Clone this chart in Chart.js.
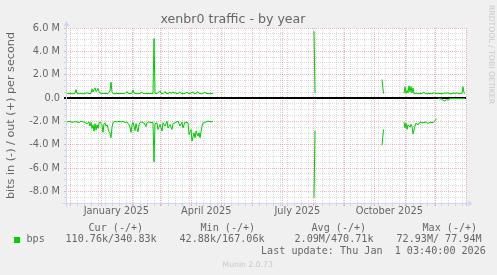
<!DOCTYPE html>
<html>
<head>
<meta charset="utf-8">
<script src="https://cdn.jsdelivr.net/npm/chart.js@4.4.1/dist/chart.umd.min.js"></script>
<style>
  html, body { margin: 0; padding: 0; background: #F0F0F0; }
  #wrap { position: relative; width: 497px; height: 275px; overflow: hidden; background: #F0F0F0; }
  #c { position: absolute; left: 0; top: 0; }
  .lg { position: absolute; white-space: pre; color: #666666; font-family: 'DejaVu Sans Mono', monospace; font-size: 10.1px; line-height: 12px; }
  .wm { position: absolute; white-space: pre; color: #C8C8C8; font-family: 'DejaVu Sans', sans-serif; font-size: 7.7px; line-height: 9px; }
  #swatch { position: absolute; left: 14px; top: 237px; width: 6px; height: 6px; background: #00CC00; }
  #rrd { writing-mode: vertical-rl; }
</style>
</head>
<body>
<div id="wrap">
  <canvas id="c" width="497" height="275"></canvas>
  <div id="swatch"></div>
</div>
<script>
// ---------- data (values in millions of bits per second, x = days since the start of the 400-day window) ----------
const chartTitle = 'xenbr0 traffic - by year';
const yAxisTitle = 'bits in (-) / out (+) per second';
const seriesName = 'bps';

const outDays = [1,3,5,7,9,10,11,13,15,17,19,21,23,25,26,27,28,29,30,31,32,33,34,36,38,40,42,44,45,46,
  47,49,51,53,55,57,59,61,62,64,66,67,68,70,72,74,76,77,79,81,83,85,87,88,89,91,93,94,95,97,
  99,100,102,104,105,107,108,109,110,112,114,115,117,119,121,122,124,127,128,130,132,133,135,137,139,140,142,144,147,148,
  248,249,250,
  316,317.5,320,
  338,339,340,341,342,343,344,345,346,347,348,350,352,354,356,358,359,361,363,366,368,369,371,374,377,379,380,382,383,386,388,389,391,392,394,396,397,398,399];
const outMbps = [0.39,0.37,0.38,0.36,0.40,0.72,0.40,0.37,0.38,0.36,0.39,0.45,0.37,0.40,0.79,0.52,0.72,0.87,0.55,0.62,0.82,0.55,0.42,0.40,0.38,0.39,0.37,0.62,1.36,0.50,
  0.38,0.36,0.39,0.37,0.40,0.38,0.37,0.55,0.40,0.38,0.40,0.68,0.42,0.38,0.37,0.39,0.52,0.40,0.37,0.38,0.39,0.37,0.38,5.10,0.40,0.38,0.52,0.62,0.40,0.37,
  0.55,0.40,0.37,0.50,0.39,0.52,0.40,0.50,0.37,0.38,0.52,0.39,0.37,0.38,0.52,0.40,0.38,0.52,0.38,0.40,0.55,0.40,0.37,0.38,0.52,0.39,0.37,0.38,0.38,null,
  5.73,0.45,null,
  1.59,0.39,null,
  0.40,0.95,0.40,0.64,0.45,1.05,0.52,0.98,0.44,0.87,0.38,0.41,0.37,0.38,0.37,0.52,0.38,0.37,0.38,0.37,0.47,0.38,0.40,0.37,0.38,0.44,0.38,0.46,0.38,0.37,0.44,0.38,0.45,0.38,0.37,0.40,0.96,0.45,0.37];

const inDays = [1,3,5,7,9,11,13,15,17,19,21,23,24,25,26,27,28,29,30,31,32,33,34,35,36,37,38,39,40,41,
  42,43,44,45,46,47,49,51,53,55,57,59,61,63,64,65,66,67,68,69,70,71,72,73,74,76,78,80,81,83,
  85,87,88,89,91,92,94,96,97,99,101,102,104,106,107,109,111,112,114,116,117,119,122,123,125,126,128,129,130,132,
  133,134,136,137,139,142,146,147,148,
  248,249,250,
  316,317.5,320,
  338,339,340,341,342,344,345,346,347,349,350,352,354,356,358,360,362,364,366,367,369,370.7,371.5,372.3,374,375.7,377.3,379,380.7,382,384,387,390,393,396,399];
const inMbps = [-2.05,-2.00,-2.05,-2.08,-2.02,-2.05,-2.10,-2.00,-2.05,-2.10,-2.20,-2.05,-2.40,-2.10,-2.60,-2.30,-2.85,-2.20,-2.75,-2.30,-2.60,-2.15,-2.05,-2.20,-2.30,-2.95,-2.20,-2.15,-2.40,-2.30,
  -2.60,-2.90,-3.00,-3.40,-2.50,-2.10,-2.00,-2.05,-2.00,-2.05,-2.00,-2.10,-2.05,-2.30,-2.50,-2.95,-2.30,-2.10,-2.40,-2.80,-2.20,-2.60,-2.90,-2.30,-2.10,-2.05,-2.15,-2.45,-2.10,-2.05,
  -2.10,-2.10,-5.47,-2.20,-2.13,-2.70,-2.27,-2.84,-2.13,-2.41,-1.99,-2.56,-2.27,-2.70,-2.20,-2.13,-2.04,-1.99,-2.41,-2.07,-2.56,-2.07,-2.13,-3.13,-2.70,-3.70,-2.98,-3.41,-2.84,-3.27,
  -2.98,-3.41,-2.41,-2.13,-2.07,-1.99,-2.04,-1.99,null,
  -8.55,-2.80,null,
  -4.04,-2.70,null,
  -2.07,-2.56,-2.16,-2.70,-2.30,-2.50,-2.25,-2.45,-3.07,-2.41,-2.16,-2.30,-2.07,-2.12,-2.10,-2.05,-2.18,-2.07,-2.10,-2.12,-1.93,-1.76,null,-0.04,-0.06,-0.10,-0.21,-0.27,-0.12,-0.20,-0.05,-0.04,-0.05,-0.04,-0.05,-0.04];

// axis ranges and tick labels
const xDayRange = [0, 400];
const yRange = [-9, 6];
const yLabelValues = [6, 4, 2, 0, -2, -4, -6, -8];
const yLabelText = ['6.0 M', '4.0 M', '2.0 M', '0.0', '-2.0 M', '-4.0 M', '-6.0 M', '-8.0 M'];
const xLabelMonths = [[2025, 0], [2025, 3], [2025, 6], [2025, 9]];
const xLabelText = ['January 2025', 'April 2025', 'July 2025', 'October 2025'];

// legend
const legendHeaders = ['Cur (-/+)', 'Min (-/+)', 'Avg (-/+)', 'Max (-/+)'];
const legendValues = ['110.76k/340.83k', '42.88k/167.06k', '2.09M/470.71k', '72.93M/ 77.94M'];
const lastUpdate = 'Last update: Thu Jan  1 03:40:00 2026';
const footer = 'Munin 2.0.73';
const watermark = 'RRDTOOL / TOBI OETIKER';

// ---------- time helpers (grid positions derived from calendar dates) ----------
const WINDOW_START = Date.UTC(2024, 10, 26, 16, 48);
const DAY = 86400000;
const toDay = t => (t - WINDOW_START) / DAY;

const monthGridDays = [];
for (let y = 2024, m = 11; y < 2026 || (y === 2026 && m === 0); ) {
  monthGridDays.push(toDay(Date.UTC(y, m, 1)));
  m++; if (m === 12) { m = 0; y++; }
}
const weekGridDays = [];
for (let t = Date.UTC(2024, 11, 1); toDay(t) < xDayRange[1]; t += 7 * DAY) {
  const d = toDay(t);
  if (!monthGridDays.some(md => Math.abs(md - d) < 0.01)) weekGridDays.push(d);
}
const xGridDays = weekGridDays.concat(monthGridDays).sort((a, b) => a - b);
const monthSet = new Set(monthGridDays);
const xLabelDays = xLabelMonths.map(([y, m]) => toDay(Date.UTC(y, m, 1) + 15 * DAY));

const yGridValues = [];
for (let i = yRange[0] * 2; i <= yRange[1] * 2; i++) yGridValues.push(i / 2);

// ---------- styles ----------
const GREEN = '#00CC00';
const GRID = 'rgba(150,150,150,0.32)';
const MGRID = 'rgba(222,90,90,0.42)';
const AXIS = '#CFD6F8';
const FONT = '#666666';

const plotDecor = {
  id: 'plotDecor',
  beforeDraw(chart) {
    const { ctx, chartArea: a } = chart;
    ctx.save();
    ctx.fillStyle = '#FFFFFF';
    ctx.fillRect(a.left, a.top, a.right - a.left, a.bottom - a.top);
    ctx.restore();
  },
  afterDatasetsDraw(chart) {
    const { ctx, chartArea: a } = chart;
    const x0 = Math.round(a.left) + 0.5, y0 = Math.round(a.bottom) + 0.5;
    ctx.save();
    ctx.strokeStyle = AXIS; ctx.fillStyle = AXIS; ctx.lineWidth = 1;
    ctx.beginPath();
    ctx.moveTo(a.left - 4, y0); ctx.lineTo(a.right + 4, y0);
    ctx.moveTo(x0, a.bottom + 4); ctx.lineTo(x0, a.top - 4);
    ctx.stroke();
    ctx.beginPath();
    ctx.moveTo(a.right + 2, y0 - 3); ctx.lineTo(a.right + 2, y0 + 3); ctx.lineTo(a.right + 7, y0); ctx.closePath(); ctx.fill();
    ctx.beginPath();
    ctx.moveTo(x0 - 3, a.top - 2); ctx.lineTo(x0 + 3, a.top - 2); ctx.lineTo(x0, a.top - 7); ctx.closePath(); ctx.fill();
    ctx.restore();
  }
};

const axisFont = { family: 'DejaVu Sans', size: 9.8 };

new Chart(document.getElementById('c'), {
  type: 'line',
  data: {
    datasets: [
      { label: seriesName + ' out', data: outDays.map((d, i) => ({ x: d, y: outMbps[i] })),
        borderColor: GREEN, borderWidth: 1, pointRadius: 0, tension: 0, fill: false, spanGaps: false },
      { label: seriesName + ' in', data: inDays.map((d, i) => ({ x: d, y: inMbps[i] })),
        borderColor: GREEN, borderWidth: 1, pointRadius: 0, tension: 0, fill: false, spanGaps: false }
    ]
  },
  options: {
    responsive: false,
    animation: false,
    devicePixelRatio: 1,
    layout: { padding: { left: 0, right: 31, top: 0, bottom: 0 } },
    plugins: {
      legend: { display: false },
      tooltip: { enabled: false },
      title: { display: true, text: chartTitle, color: FONT,
        font: { family: 'DejaVu Sans', size: 12.6, weight: 'normal', lineHeight: '16px' },
        padding: { top: 12, bottom: 0 } }
    },
    scales: {
      x: {
        type: 'linear', position: 'bottom', weight: 0,
        min: xDayRange[0], max: xDayRange[1],
        afterBuildTicks: s => { s.ticks = xGridDays.map(v => ({ value: v })); },
        afterFit: s => { s.height = 3; },
        ticks: { display: false, autoSkip: false },
        grid: { color: c => (c.tick && monthSet.has(c.tick.value)) ? MGRID : GRID, lineWidth: 1, tickLength: 3, drawTicks: true },
        border: { display: false, dash: [1, 1] }
      },
      xl: {
        type: 'linear', position: 'bottom', weight: 1,
        min: xDayRange[0], max: xDayRange[1],
        afterBuildTicks: s => { s.ticks = xLabelDays.map(v => ({ value: v })); },
        afterFit: s => { s.height = 69; },
        ticks: { autoSkip: false, maxRotation: 0, minRotation: 0, padding: 0, color: FONT, font: axisFont,
          callback: (v, i) => xLabelText[i] },
        grid: { display: false, drawTicks: false },
        border: { display: false }
      },
      y: {
        type: 'linear', min: yRange[0], max: yRange[1],
        afterBuildTicks: s => { s.ticks = yGridValues.map(v => ({ value: v })); },
        afterFit: s => { s.width = 66; },
        ticks: { autoSkip: false, padding: 4, color: FONT, font: axisFont,
          callback: v => { const i = yLabelValues.indexOf(v); return i < 0 ? '' : yLabelText[i]; } },
        grid: {
          color: c => { if (!c.tick) return GRID; const v = c.tick.value; return v === 0 ? '#000000' : (v % 2 === 0 ? MGRID : GRID); },
          lineWidth: c => (c.tick && c.tick.value === 0) ? 2 : 1,
          tickLength: 2, drawTicks: true
        },
        border: { display: false, dash: c => (c.tick && c.tick.value === 0) ? [] : [1, 1] },
        title: { display: true, text: yAxisTitle, color: FONT, font: { family: 'DejaVu Sans', size: 11.2 }, padding: { top: 4, bottom: 0 } }
      }
    }
  },
  plugins: [plotDecor]
});

// ---------- legend and footer text ----------
const wrap = document.getElementById('wrap');
function addText(cls, text, left, top, extraId) {
  const el = document.createElement('div');
  el.className = cls;
  el.textContent = text;
  el.style.left = left + 'px';
  el.style.top = top + 'px';
  if (extraId) el.id = extraId;
  wrap.appendChild(el);
  return el;
}
const headerLefts = [88.5, 200.5, 311.5, 422.5];
const valueLefts = [65.5, 179.5, 294.5, 396.5];
legendHeaders.forEach((h, i) => addText('lg', h, headerLefts[i], 221.7));
addText('lg', seriesName, 26.5, 233.3);
legendValues.forEach((v, i) => addText('lg', v, valueLefts[i], 233.3));
addText('lg', lastUpdate, 261, 245);
const f = addText('wm', footer, 0, 259.5);
f.style.left = (247.5 - f.offsetWidth / 2) + 'px';
addText('wm', watermark, 486.5, 5, 'rrd');
</script>
</body>
</html>
